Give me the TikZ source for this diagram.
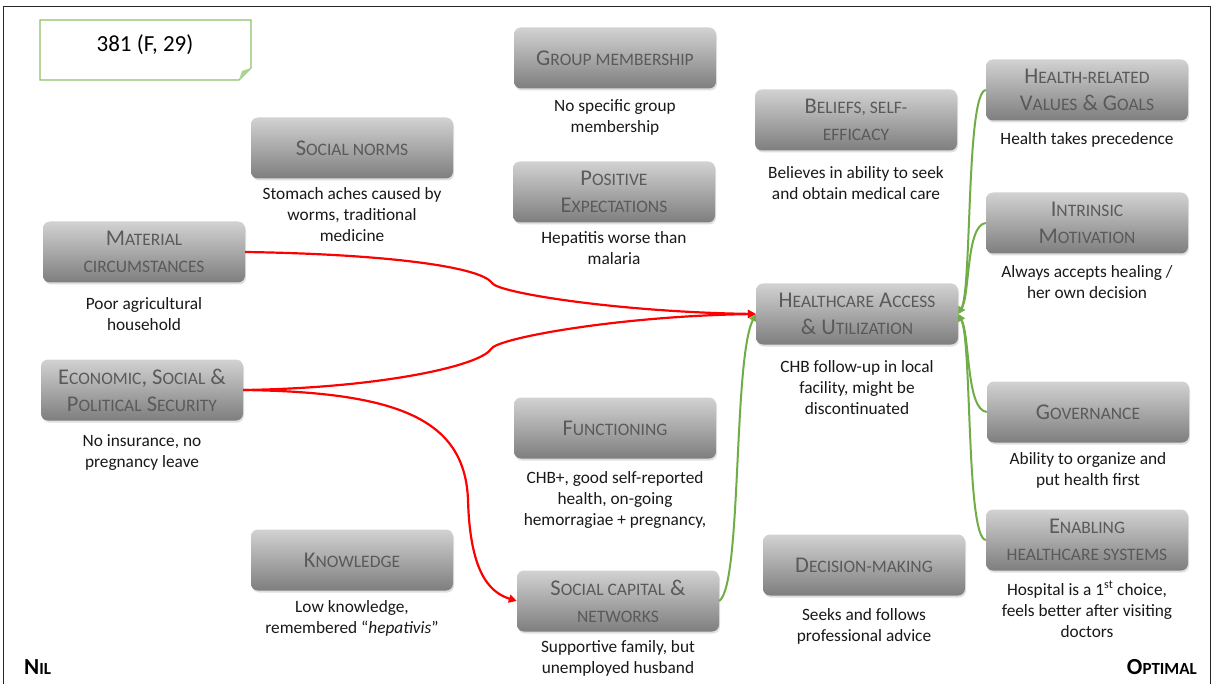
\documentclass[tikz,border=0pt]{standalone}
\usepackage{fontspec}
\setmainfont{Carlito}
\usetikzlibrary{arrows.meta,shadows,calc}
\newcommand\Sc[1]{{\fontsize{17.5}{19}\selectfont #1}}
\newcommand\Bsc[1]{{\fontsize{17}{19}\selectfont #1}}
\definecolor{boxtop}{HTML}{D2D2D2}
\definecolor{boxbot}{HTML}{7E7E7E}
\definecolor{titlegray}{HTML}{5A5A5A}
\definecolor{mygreen}{HTML}{70AD47}
\definecolor{notegreen}{HTML}{8CC168}
\begin{document}
\begin{tikzpicture}[x=1pt,y=-1pt,
  cat/.style={rectangle, rounded corners=7pt, minimum width=202pt, minimum height=61pt,
    top color=boxtop, bottom color=boxbot, draw=none, text=titlegray,
    font=\fontsize{22.5}{27}\selectfont, align=center, inner sep=2pt,
    drop shadow={opacity=0.25, shadow xshift=1pt, shadow yshift=-2pt}},
  desc/.style={anchor=north, align=center, font=\fontsize{17.3}{21}\selectfont,
    text=black!90, inner sep=0pt},
  redarrow/.style={draw=red, line width=2.2pt, -{Triangle[length=8pt,width=8pt]}},
  greenarrow/.style={draw=mygreen, line width=2pt, -{Triangle[length=7pt,width=7pt]}},
  corner/.style={font=\bfseries\fontsize{23}{25}\selectfont, inner sep=0pt}]
\useasboundingbox (0,0) rectangle (1214,684);
\fill[white] (0,0) rectangle (1214,684);
\draw[black!85, line width=0.8pt] (3,684) -- (3,6) -- (1210,6) -- (1210,684);

% note box
\draw[notegreen, line width=1.2pt, fill=white] (40,20) -- (251,20) -- (251,68) -- (239,80) -- (40,80) -- cycle;
\fill[notegreen!70] (251,68) -- (242,71) -- (239,80) -- cycle;
\node[font=\fontsize{23}{26}\selectfont, inner sep=0pt] (note) at (145,45) {381 (F, 29)};

% category boxes
\node[cat] (sn)  at (352,148) {S\Sc{OCIAL NORMS}};
\node[cat] (gm)  at (615,58)  {G\Sc{ROUP MEMBERSHIP}};
\node[cat] (pe)  at (614,192) {P\Sc{OSITIVE}\\E\Sc{XPECTATIONS}};
\node[cat] (be)  at (856,120) {B\Sc{ELIEFS, SELF-}\\\Sc{EFFICACY}};
\node[cat] (hv)  at (1087,90) {H\Sc{EALTH-RELATED}\\V\Sc{ALUES} \& G\Sc{OALS}};
\node[cat] (im)  at (1087,223) {I\Sc{NTRINSIC}\\M\Sc{OTIVATION}};
\node[cat] (mat) at (144,252) {M\Sc{ATERIAL}\\\Sc{CIRCUMSTANCES}};
\node[cat] (eco) at (142,390) {E\Sc{CONOMIC}, S\Sc{OCIAL} \&\\P\Sc{OLITICAL} S\Sc{ECURITY}};
\node[cat] (hc)  at (857,314) {H\Sc{EALTHCARE} A\Sc{CCESS}\\\& U\Sc{TILIZATION}};
\node[cat] (fu)  at (615,428) {F\Sc{UNCTIONING}};
\node[cat] (gov) at (1088,412) {G\Sc{OVERNANCE}};
\node[cat] (ehs) at (1087,540) {E\Sc{NABLING}\\\Sc{HEALTHCARE SYSTEMS}};
\node[cat] (kn)  at (352,560) {K\Sc{NOWLEDGE}};
\node[cat] (sc)  at (618,601) {S\Sc{OCIAL CAPITAL} \&\\\Sc{NETWORKS}};
\node[cat] (dm)  at (864,565) {D\Sc{ECISION-MAKING}};

% descriptions
\node[desc] (snd)  at (352,187)  {Stomach aches caused by\\worms, traditional\\medicine};
\node[desc] (gmd)  at (615,99)   {No specific group\\membership};
\node[desc] (ped)  at (614,231)  {Hepatitis worse than\\malaria};
\node[desc] (bed)  at (856,166)  {Believes in ability to seek\\and obtain medical care};
\node[desc] (hvd)  at (1087,132) {Health takes precedence};
\node[desc] (imd)  at (1087,265) {Always accepts healing /\\her own decision};
\node[desc] (matd) at (144,297)  {Poor agricultural\\household};
\node[desc] (ecod) at (142,434)  {No insurance, no\\pregnancy leave};
\node[desc] (hcd)  at (857,360)  {CHB follow-up in local\\facility, might be\\discontinuated};
\node[desc] (fud)  at (615,471)  {CHB+, good self-reported\\health, on-going\\hemorragiae + pregnancy,};
\node[desc] (govd) at (1088,452) {Ability to organize and\\put health first};
\node[desc] (ehsd) at (1087,581) {Hospital is a 1\textsuperscript{st} choice,\\feels better after visiting\\doctors};
\node[desc] (knd)  at (352,600)  {Low knowledge,\\remembered “\textit{hepativis}”};
\node[desc] (scd)  at (618,640)  {Supportive family, but\\unemployed husband};
\node[desc] (dmd)  at (864,608)  {Seeks and follows\\professional advice};

% corner labels
\node[corner, anchor=west] (nil) at (24,667) {N\Bsc{IL}};
\node[corner, anchor=east] (opt) at (1197,667) {O\Bsc{PTIMAL}};

% red connectors
\draw[redarrow] (mat.east) .. controls (380,254) and (480,266) .. (492,283)
  .. controls (498,293) and (620,312) .. (hc.west);
\draw[redarrow] (eco.east) .. controls (380,388) and (480,366) .. (491,349)
  .. controls (497,338) and (620,316) .. (hc.west);
\draw[redarrow] (eco.east) .. controls (400,392) and (465,420) .. (468,500)
  .. controls (470,570) and (488,592) .. (sc.west);

% green connectors
\draw[greenarrow] (sc.east) .. controls (742,585) and (733,360) .. (hc.west);
\draw[greenarrow] (hv.west) .. controls (966,92) and (972,290) .. (hc.east);
\draw[greenarrow] (im.west) .. controls (966,225) and (970,295) .. (hc.east);
\draw[greenarrow] (gov.west) .. controls (966,410) and (970,335) .. (hc.east);
\draw[greenarrow] (ehs.west) .. controls (966,538) and (972,340) .. (hc.east);
\end{tikzpicture}
\end{document}
